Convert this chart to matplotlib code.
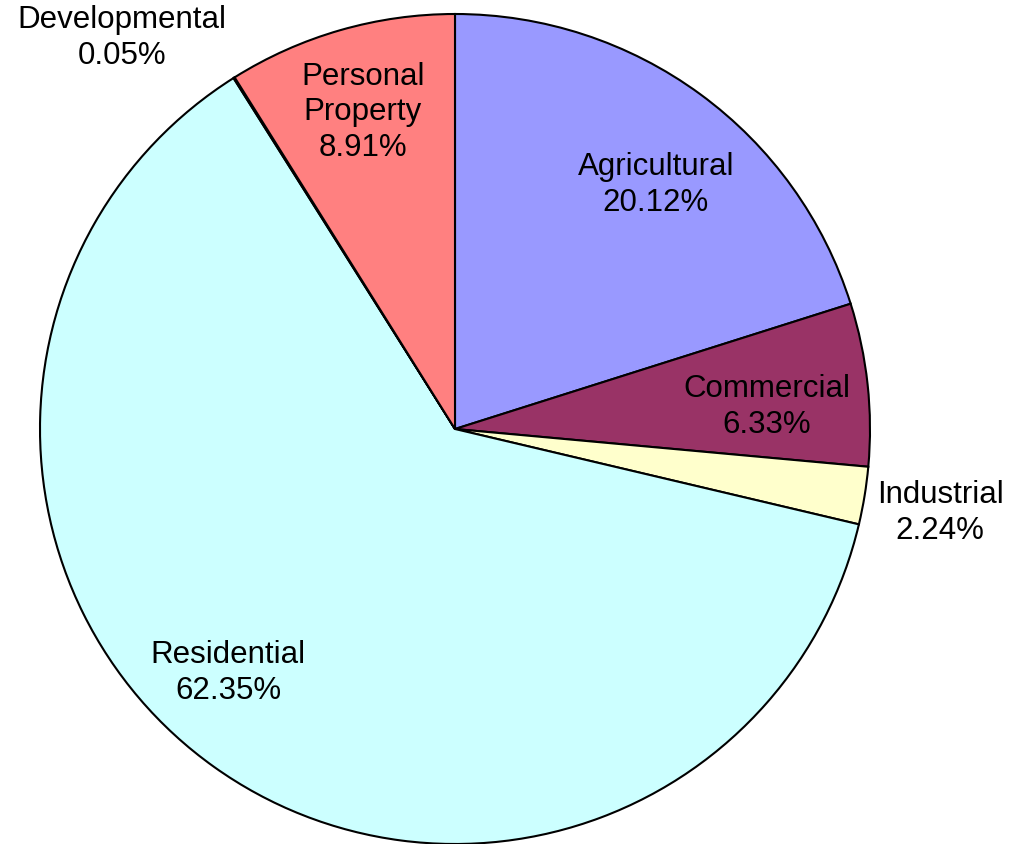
import matplotlib.pyplot as plt

plt.rcParams['font.family'] = ['Liberation Sans', 'DejaVu Sans']

labels = ["Agricultural", "Commercial", "Industrial", "Residential",
          "Developmental", "Personal\nProperty"]
values = [20.12, 6.33, 2.24, 62.35, 0.05, 8.91]
colors = ["#9999FF", "#993366", "#FFFFCC", "#CCFFFF", "#660066", "#FF8080"]
# label centres, in units of the pie radius
label_xy = [(0.484, 0.590), (0.752, 0.055), (1.169, -0.200),
            (-0.547, -0.586), (-0.802, 0.945), (-0.222, 0.766)]

fig = plt.figure(figsize=(10.13, 8.45), dpi=100)
ax = fig.add_axes([40/1013, 0, 830/1013, 830/845])
wedges, _ = ax.pie(values, colors=colors, startangle=90, counterclock=False,
                   radius=1.0, wedgeprops=dict(edgecolor="black", linewidth=1.5))
ax.set_xlim(-1, 1)
ax.set_ylim(-1, 1)
ax.axis("off")

for lab, v, (x, y) in zip(labels, values, label_xy):
    ax.text(x, y, f"{lab}\n{v:.2f}%", ha="center", va="center",
            fontsize=22.5, linespacing=1.24, clip_on=False)

fig.savefig("out.png", dpi=100)
